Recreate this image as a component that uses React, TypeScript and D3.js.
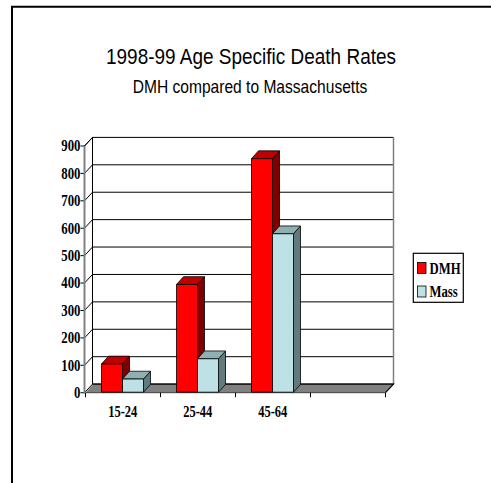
import React from "react";
import * as d3 from "d3";

const categories = ["15-24", "25-44", "45-64", ""];
const seriesNames = ["DMH", "Mass"];
const dmhValues = [103, 393, 852, null];
const massValues = [48, 122, 578, null];
const yTicks = [0, 100, 200, 300, 400, 500, 600, 700, 800, 900];

const W = 491;
const H = 483;
const DX = 8;
const DY = 8.6;
const BDX = 7;
const BDY = 7.8;

const colors: Record<string, { front: string; top: string; side: string }> = {
  DMH: { front: "#FF0000", top: "#C00000", side: "#800000" },
  Mass: { front: "#BDE1E5", top: "#90AFB2", side: "#607A7D" },
};

export default function App() {
  const x = d3.scaleBand<string>().domain(categories).range([85.5, 385.5]).padding(0);
  const inner = d3.scaleBand<string>().domain(seriesNames).range([15.5, 57.5]).padding(0);
  const y = d3.scaleLinear().domain([0, 900]).range([392.7, 146]);

  const series = [
    { name: "DMH", values: dmhValues },
    { name: "Mass", values: massValues },
  ];

  const x0 = x.range()[0];
  const x1 = x.range()[1];
  const yb = y(0);
  const yt = y(900);

  const bars: JSX.Element[] = [];
  categories.forEach((c, ci) => {
    series.forEach((s) => {
      const v = s.values[ci];
      if (v == null) return;
      const bx = (x(c) as number) + (inner(s.name) as number) + 0.5;
      const bw = inner.bandwidth();
      const top = y(v) - 0.5;
      const bottom = yb - 0.5;
      const col = colors[s.name];
      bars.push(
        <g key={c + s.name} stroke="#000" strokeWidth={0.8} strokeLinejoin="round">
          <path
            d={`M${bx + bw},${bottom} L${bx + bw + BDX},${bottom - BDY} L${bx + bw + BDX},${top - BDY} L${bx + bw},${top} Z`}
            fill={col.side}
          />
          <path
            d={`M${bx},${top} L${bx + BDX},${top - BDY} L${bx + bw + BDX},${top - BDY} L${bx + bw},${top} Z`}
            fill={col.top}
          />
          <rect x={bx} y={top} width={bw} height={bottom - top} fill={col.front} />
        </g>
      );
    });
  });

  return (
    <svg
      width={W}
      height={H}
      style={{ position: "absolute", left: 0, top: 0, background: "#fff" }}
    >
      <rect x={0} y={0} width={W} height={H} fill="#fff" />
      <path d={`M12,${H} V6.7 H${W}`} fill="none" stroke="#000" strokeWidth={2} />

      <text
        x={251}
        y={64}
        textAnchor="middle"
        fontFamily="Liberation Sans, Arial, sans-serif"
        fontSize={21.5}
        textLength={290}
        lengthAdjust="spacingAndGlyphs"
        fill="#000"
      >
        1998-99 Age Specific Death Rates
      </text>
      <text
        x={250}
        y={92.7}
        textAnchor="middle"
        fontFamily="Liberation Sans, Arial, sans-serif"
        fontSize={19}
        textLength={234.6}
        lengthAdjust="spacingAndGlyphs"
        fill="#000"
      >
        DMH compared to Massachusetts
      </text>

      {/* back wall */}
      <rect
        x={x0 - 1 + DX}
        y={yt - DY}
        width={x1 - x0 + 1}
        height={yb - yt}
        fill="#fff"
        stroke="none"
      />
      {/* side wall */}
      <path
        d={`M${x0 - 1},${yb} L${x0 - 1 + DX},${yb - DY} L${x0 - 1 + DX},${yt - DY} L${x0 - 1},${yt} Z`}
        fill="#fff"
      />
      {/* gridlines on back and side walls */}
      {yTicks.map((t) => (
        <g key={t}>
          <line
            x1={x0 - 1 + DX}
            x2={x1 + DX}
            y1={y(t) - DY}
            y2={y(t) - DY}
            stroke="#000"
            strokeWidth={1}
          />
          <line
            x1={x0 - 1}
            x2={x0 - 1 + DX}
            y1={y(t)}
            y2={y(t) - DY}
            stroke="#000"
            strokeWidth={1}
          />
          <line x1={x0 - 5} x2={x0 - 1} y1={y(t)} y2={y(t)} stroke="#000" strokeWidth={1} />
          <g transform={`translate(${x0 - 5},${y(t) + 5.3}) scale(0.8,1)`}>
            <text
              x={0}
              y={0}
              textAnchor="end"
              fontFamily="Liberation Serif, Times New Roman, serif"
              fontWeight="bold"
              fontSize={16}
              fill="#000"
            >
              {t}
            </text>
          </g>
        </g>
      ))}
      {/* back wall edges */}
      <line x1={x0 - 1 + DX} x2={x0 - 1 + DX} y1={yt - DY} y2={yb - DY} stroke="#000" strokeWidth={1} />
      <line x1={x1 + DX} x2={x1 + DX} y1={yt - DY} y2={yb - DY} stroke="#808080" strokeWidth={1.5} />
      <line x1={x0 - 1} x2={x0 - 1 + DX} y1={yt} y2={yt - DY} stroke="#000" strokeWidth={1} />

      {/* floor */}
      <path
        d={`M${x0},${yb} L${x1},${yb} L${x1 + DX},${yb - DY} L${x0 + DX},${yb - DY} Z`}
        fill="#808080"
        stroke="none"
      />
      <path
        d={`M${x0 + DX - 1},${yb - DY} L${x1 + DX},${yb - DY} L${x1},${yb}`}
        fill="none"
        stroke="#000"
        strokeWidth={1.2}
      />
      <line x1={x0} x2={x1} y1={yb} y2={yb} stroke="#404040" strokeWidth={1} />
      {/* front y axis */}
      <line x1={x0 - 1} x2={x0 - 1} y1={yt} y2={yb + 1} stroke="#808080" strokeWidth={2} />

      {/* x ticks and labels */}
      {categories.concat(["__end"]).map((c, i) => {
        const px = i < categories.length ? (x(c) as number) : x1;
        return (
          <line key={"xt" + i} x1={px} x2={px} y1={yb} y2={yb + 4.5} stroke="#000" strokeWidth={1} />
        );
      })}
      {categories.map((c) => (
        <g
          key={"xl" + c}
          transform={`translate(${(x(c) as number) + 37.3},${416.8}) scale(0.78,1)`}
        >
          <text
            x={0}
            y={0}
            textAnchor="middle"
            fontFamily="Liberation Serif, Times New Roman, serif"
            fontWeight="bold"
            fontSize={16}
            fill="#000"
          >
            {c}
          </text>
        </g>
      ))}

      {bars}

      {/* legend */}
      <rect x={413.3} y={253.3} width={50} height={49} fill="#fff" stroke="#000" strokeWidth={1.2} />
      {series.map((s, i) => (
        <g key={"lg" + s.name}>
          <rect
            x={417.5}
            y={262.5 + i * 23.5}
            width={8.5}
            height={11}
            fill={colors[s.name].front}
            stroke="#000"
            strokeWidth={0.8}
          />
          <g transform={`translate(429.5,${273.8 + i * 23.5}) scale(0.77,1)`}>
            <text
              x={0}
              y={0}
              fontFamily="Liberation Serif, Times New Roman, serif"
              fontWeight="bold"
              fontSize={16.5}
              fill="#000"
            >
              {s.name}
            </text>
          </g>
        </g>
      ))}
    </svg>
  );
}
